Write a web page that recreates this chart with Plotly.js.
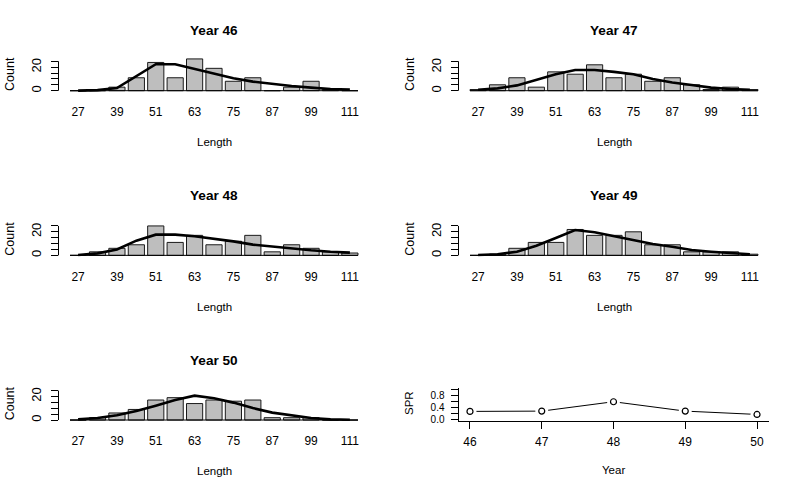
<!DOCTYPE html>
<html>
<head>
<meta charset="utf-8">
<script src="https://cdn.plot.ly/plotly-3.0.1.min.js"></script>
<style>body{margin:0;background:#fff}</style>
</head>
<body>
<div id="chart" style="width:799px;height:494px"></div>
<script>
// length classes (bar centres) and the labels under them
var bins = [27, 33, 39, 45, 51, 57, 63, 69, 75, 81, 87, 93, 99, 105, 111];
var lenTicks = [27, 39, 51, 63, 75, 87, 99, 111];
var countTicks = [0, 5, 10, 15, 20, 25];
var countTickText = ['0', '', '', '', '20', ''];

var years = [46, 47, 48, 49, 50];

// observed counts per year
var count46 = [0, 0, 3, 11, 24, 11, 27, 19, 8, 11, 0, 3, 8, 1, 0];
var count47 = [1, 5, 11, 3, 16, 14, 22, 11, 14, 8, 11, 5, 1, 3, 1];
var count48 = [0, 3, 6, 9, 25, 11, 17, 9, 12, 17, 3, 9, 6, 3, 2];
var count49 = [0, 1, 6, 11, 11, 22, 17, 17, 20, 9, 9, 3, 3, 3, 1];
var count50 = [0, 2, 6, 9, 17, 19, 14, 17, 16, 17, 2, 2, 2, 0, 0];

// fitted counts per year
var fit46 = [0.1, 0.5, 2.2, 12, 22.5, 22.5, 18.5, 14.8, 10.5, 7.7, 5.7, 4, 2.6, 1.4, 0.9];
var fit47 = [0.8, 2, 4.5, 9, 14, 17.6, 17.6, 16, 14, 10, 7, 4.8, 2.6, 1.4, 0.8];
var fit48 = [0.3, 1.7, 5, 12.5, 17.6, 17.6, 16.2, 14.2, 11.9, 9.1, 7.4, 6, 4.3, 3.1, 2.3];
var fit49 = [0.3, 0.9, 3.1, 8.2, 14.8, 21.5, 19.6, 16.2, 12.8, 9.7, 7.4, 4.5, 3.1, 2, 0.9];
var fit50 = [0.6, 1.7, 4, 7.7, 12.2, 17, 20.7, 18.5, 14.8, 10.2, 6.3, 3.7, 1.7, 0.6, 0.3];

// spawning potential ratio by year
var spr = [0.26, 0.27, 0.58, 0.27, 0.16];
var sprTicks = [0, 0.2, 0.4, 0.6, 0.8, 1.0];
var sprTickText = ['0.0', '', '0.4', '', '0.8', ''];

var counts = [count46, count47, count48, count49, count50];
var fits = [fit46, fit47, fit48, fit49, fit50];

var W = 799, H = 494;
var FONT = 'Liberation Sans, Arial, sans-serif';
var BARGAP = 1 / 6;

function xd(a, b) { return [a / W, b / W]; }
function yd(top, bottom) { return [(H - bottom) / H, (H - top) / H]; }

var step = bins[1] - bins[0];
var barW = step * (1 - BARGAP);
var lo = bins[0] - barW / 2, hi = bins[bins.length - 1] + barW / 2;
var ext = 0.04 * (hi - lo);

var data = [];
var layout = {
	width: W, height: H,
	margin: {l: 0, r: 0, t: 0, b: 0},
	paper_bgcolor: '#fff', plot_bgcolor: '#fff',
	showlegend: false,
	bargap: BARGAP,
	font: {family: FONT, size: 12, color: '#000'},
	shapes: [],
	annotations: []
};

function label(text, px, py, size, opts) {
	var a = {
		text: text, xref: 'paper', yref: 'paper',
		x: px / W, y: (H - py) / H,
		xanchor: 'center', yanchor: 'middle',
		showarrow: false, font: {family: FONT, size: size, color: '#000'}
	};
	for (var k in opts) a[k] = opts[k];
	layout.annotations.push(a);
}

for (var i = 0; i < years.length; i++) {
	var n = i + 1;
	var cx = (i % 2) * 400;
	var ry = Math.floor(i / 2) * 164.67;
	var xa = 'x' + (n > 1 ? n : ''), ya = 'y' + (n > 1 ? n : '');
	var left = 58.5 + cx, right = 369.5 + cx;

	layout['xaxis' + (n > 1 ? n : '')] = {
		domain: xd(left, right), anchor: ya,
		range: [lo - ext, hi + ext],
		tickvals: lenTicks, ticks: '', showline: false, zeroline: false, showgrid: false,
		tickfont: {size: 12}, ticklabelstandoff: 11, fixedrange: true
	};
	layout['yaxis' + (n > 1 ? n : '')] = {
		domain: yd(55.8 + ry, 92.04 + ry), anchor: xa,
		range: [-1.14, 29.64],
		tickvals: countTicks, ticktext: countTickText,
		ticks: 'outside', ticklen: 7, tickcolor: '#000', tickwidth: 1,
		tickangle: -90, tickfont: {size: 13}, ticklabelstandoff: 4,
		showline: false, zeroline: false, showgrid: false, fixedrange: true
	};
	layout.shapes.push({
		type: 'line', xref: xa + ' domain', yref: ya,
		x0: 0, x1: 0, y0: countTicks[0], y1: countTicks[countTicks.length - 1],
		line: {color: '#000', width: 1}
	});

	data.push({
		type: 'bar', x: bins, y: counts[i], xaxis: xa, yaxis: ya,
		marker: {color: '#bebebe', line: {color: '#1a1a1a', width: 1}}
	});
	data.push({
		type: 'scatter', mode: 'lines', x: [lo, hi], y: [0, 0], xaxis: xa, yaxis: ya,
		line: {color: '#000', width: 1}
	});
	data.push({
		type: 'scatter', mode: 'lines', x: bins, y: fits[i], xaxis: xa, yaxis: ya,
		line: {color: '#000', width: 2.6}
	});

	var mid = (left + right) / 2;
	label('<b>Year ' + years[i] + '</b>', mid, 31 + ry, 13.6, {});
	label('Length', mid, 142 + ry, 11.5, {});
	label('Count', 10 + cx, 74 + ry, 12.5, {textangle: -90});
}

// SPR panel
layout.xaxis6 = {
	domain: xd(458.5, 768.5), anchor: 'y6',
	range: [years[0] - 0.04 * (years[4] - years[0]), years[4] + 0.04 * (years[4] - years[0])],
	tickvals: years, ticks: 'outside', ticklen: 7, tickcolor: '#000',
	showline: true, linecolor: '#000', linewidth: 1,
	zeroline: false, showgrid: false, ticklabelstandoff: 3, fixedrange: true
};
layout.yaxis6 = {
	domain: yd(387.8, 420.5), anchor: 'x6',
	range: [-0.04, 1.04],
	tickvals: sprTicks, ticktext: sprTickText, tickangle: 0,
	ticks: 'outside', ticklen: 7, tickcolor: '#000',
	showline: true, linecolor: '#000', linewidth: 1,
	tickfont: {size: 10}, ticklabelstandoff: 4,
	zeroline: false, showgrid: false, fixedrange: true
};
data.push({
	type: 'scatter', mode: 'lines', x: years, y: spr, xaxis: 'x6', yaxis: 'y6',
	line: {color: '#000', width: 1}
});
// white disc under each point gives the gap of an R type="b" line
data.push({
	type: 'scatter', mode: 'markers', x: years, y: spr, xaxis: 'x6', yaxis: 'y6',
	marker: {color: '#fff', size: 13, line: {width: 0}}
});
data.push({
	type: 'scatter', mode: 'markers', x: years, y: spr, xaxis: 'x6', yaxis: 'y6',
	marker: {color: '#fff', size: 6, symbol: 'circle', line: {color: '#000', width: 1.2}}
});
label('Year', 613, 470, 11.5, {});
label('SPR', 409, 403, 11.5, {textangle: -90});

Plotly.newPlot('chart', data, layout, {staticPlot: true, displayModeBar: false});
</script>
</body>
</html>
